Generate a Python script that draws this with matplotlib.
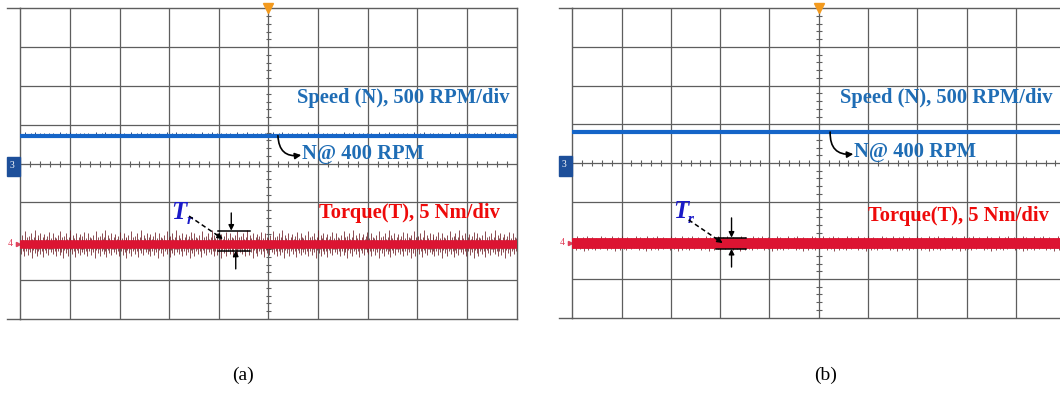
import numpy as np
import matplotlib
matplotlib.use('Agg')
import matplotlib.pyplot as plt
from matplotlib.patches import Rectangle

plt.rcParams['font.family'] = ['Liberation Serif', 'DejaVu Serif']

# scope screen, everything below is in divisions
n_divx = 10
n_divy = 8
minor_step = 0.2
captions = ['(a)', '(b)']

# trace levels (ch3 = speed, ch4 = torque)
speed_level = [0.72, 0.80]
torque_level = [-2.08, -2.08]
torque_spike = [0.36, 0.20]   # ripple spike height around the torque trace
speed_spike = [0.09, 0.05]

# ripple shape (fraction of spike height), repeated along the trace
ripple_up = [0.45, 0.20, 0.70, 0.35, 0.15, 0.95, 0.30, 0.50, 0.25, 0.60,
             0.10, 0.80, 0.40, 0.20, 0.55, 1.00, 0.30, 0.15, 0.65, 0.45,
             0.25, 0.85, 0.35, 0.20, 0.50, 0.75, 0.15, 0.40, 0.60, 0.30,
             0.90, 0.25, 0.45, 0.20, 0.80, 0.35, 0.55]
ripple_dn = [0.30, 0.65, 0.20, 0.50, 0.85, 0.25, 0.45, 0.15, 0.75, 0.35,
             0.55, 0.20, 1.00, 0.40, 0.25, 0.60, 0.30, 0.80, 0.20, 0.45,
             0.35, 0.70, 0.15, 0.50, 0.90, 0.25, 0.40, 0.60, 0.20, 0.75,
             0.35, 0.30, 0.55]
n_samples = 520

# annotations, per panel
speed_label = 'Speed (N), 500 RPM/div'
rpm_label = 'N@ 400 RPM'
torque_label = 'Torque(T), 5 Nm/div'
speed_label_xy = [(7.71, 1.69), (7.59, 1.68)]
rpm_label_xy = [(5.67, 0.25), (5.71, 0.28)]
rpm_arrow_start = [(5.19, 0.72), (5.23, 0.80)]
rpm_arrow_end = [(5.66, 0.22), (5.70, 0.23)]
torque_label_xy = [(7.84, -1.27), (7.84, -1.37)]
tr_label_xy = [(3.04, -1.25), (2.04, -1.25)]
tr_dash_start = [(3.40, -1.35), (2.36, -1.47)]
tr_dash_end = [(4.08, -1.94), (3.05, -2.07)]
tr_bracket_x = [(3.98, 4.63), (2.92, 3.53)]
tr_bracket_y = [(-1.725, -2.24), (-1.93, -2.22)]
tr_arrow_x = [(4.25, 4.34), (3.23, 3.23)]
tr_arrow_outer = [(-1.27, -2.71), (-1.42, -2.69)]

# styles
grid_col = '#5e5e5e'
speed_col = '#1565c8'
speed_txt = '#1f6db5'
torque_col = '#dc1432'
torque_dark = '#6b1a22'
torque_txt = '#ee0a0a'
tr_col = '#1a1ac8'
torque_lw = [6.2, 7.8]
axes_rects = [[0.01915, 0.1883, 0.4683, 0.7906],
              [0.5399, 0.1916, 0.4651, 0.7873]]
caption_x = [0.229, 0.779]

fig = plt.figure(figsize=(10.6, 3.93), dpi=100)

x = np.linspace(0, n_divx, n_samples)
up = np.resize(ripple_up, n_samples)
dn = np.resize(ripple_dn, n_samples)

for i in range(2):
    ax = fig.add_axes(axes_rects[i])
    ax.set_xlim(0, n_divx)
    ax.set_ylim(-n_divy / 2, n_divy / 2)
    ax.set_xticks([])
    ax.set_yticks([])
    for s in ax.spines.values():
        s.set_color(grid_col)
        s.set_linewidth(1.0)

    # graticule
    for gx in range(1, n_divx):
        ax.axvline(gx, color=grid_col, lw=0.9, zorder=1)
    for gy in range(-n_divy // 2 + 1, n_divy // 2):
        ax.axhline(gy, color=grid_col, lw=0.9, zorder=1)
    yt = np.arange(-n_divy / 2, n_divy / 2 + 0.01, minor_step)
    xt = np.arange(0, n_divx + 0.01, minor_step)
    ax.hlines(yt, n_divx / 2 - 0.06, n_divx / 2 + 0.06, color=grid_col, lw=0.8, zorder=1)
    ax.vlines(xt, -0.08, 0.08, color=grid_col, lw=0.8, zorder=1)
    for yy in (-n_divy / 2, n_divy / 2):
        ax.plot([-0.27, 0], [yy, yy], color=grid_col, lw=1.0, clip_on=False)

    # trigger marker and channel markers
    ax.plot(n_divx / 2, n_divy / 2, marker='v', color='#f39a1e', markersize=7,
            clip_on=False, zorder=5)
    ax.add_patch(Rectangle((-0.27, -0.33), 0.27, 0.51, color='#1d4f9a',
                           clip_on=False, zorder=5))
    ax.text(-0.17, -0.05, '3', color='white', fontsize=7, ha='center', va='center',
            zorder=6, clip_on=False)
    ax.text(-0.2, torque_level[i] + 0.02, '4', color='#e0405a', fontsize=7,
            ha='center', va='center', clip_on=False)
    ax.plot(-0.04, torque_level[i], marker='>', color='#e0405a', markersize=3,
            clip_on=False)

    # speed trace
    lvl = speed_level[i]
    mask = up > 0.7
    ax.vlines(x[mask], lvl, lvl + speed_spike[i] * up[mask], color='#10306a',
              lw=0.6, zorder=2)
    ax.plot(x, np.full(n_samples, lvl), color=speed_col, lw=3.0, zorder=3)

    # torque trace
    lvl = torque_level[i]
    ax.vlines(x, lvl - torque_spike[i] * dn, lvl + torque_spike[i] * up,
              color=torque_dark, lw=0.55, zorder=2)
    ax.plot(x, np.full(n_samples, lvl), color=torque_col, lw=torque_lw[i], zorder=3)

    # labels
    tkw = dict(fontsize=14.8, fontweight='bold', va='center', zorder=6)
    ax.text(*speed_label_xy[i], speed_label, color=speed_txt, ha='center', **tkw)
    ax.text(*rpm_label_xy[i], rpm_label, color=speed_txt, ha='left', **tkw)
    ax.text(*torque_label_xy[i], torque_label, color=torque_txt, ha='center', **tkw)
    ax.annotate('', xy=rpm_arrow_end[i], xytext=rpm_arrow_start[i],
                arrowprops=dict(arrowstyle='-|>', color='black', lw=1.2,
                                mutation_scale=9,
                                connectionstyle='arc3,rad=0.55',
                                shrinkA=0, shrinkB=0), zorder=6)

    # ripple marker T_r
    tx, ty = tr_label_xy[i]
    ax.text(tx, ty, 'T', color=tr_col, fontsize=18, fontweight='bold',
            fontstyle='italic', ha='left', va='center', zorder=6)
    ax.text(tx + 0.31, ty - 0.22, 'r', color=tr_col, fontsize=11, fontweight='bold',
            fontstyle='italic', ha='left', va='center', zorder=6)
    (x0, y0), (x1, y1) = tr_dash_start[i], tr_dash_end[i]
    ax.plot([x0, x0 + 0.85 * (x1 - x0)], [y0, y0 + 0.85 * (y1 - y0)], color='black',
            lw=1.1, ls=(0, (3, 2)), zorder=6)
    ax.annotate('', xy=(x1, y1), xytext=(x0 + 0.8 * (x1 - x0), y0 + 0.8 * (y1 - y0)),
                arrowprops=dict(arrowstyle='-|>', color='black', lw=1.0,
                                mutation_scale=8, shrinkA=0, shrinkB=0), zorder=6)
    bx0, bx1 = tr_bracket_x[i]
    for by in tr_bracket_y[i]:
        ax.plot([bx0, bx1], [by, by], color='black', lw=1.1, zorder=6)
    for ax_x, outer, inner in zip(tr_arrow_x[i], tr_arrow_outer[i], tr_bracket_y[i]):
        ax.annotate('', xy=(ax_x, inner), xytext=(ax_x, outer),
                    arrowprops=dict(arrowstyle='-|>', color='black', lw=1.0,
                                    mutation_scale=8, shrinkA=0, shrinkB=0), zorder=6)

    fig.text(caption_x[i], 0.044, captions[i], fontsize=14, ha='center', va='center')

fig.savefig('out.png', dpi=100)
